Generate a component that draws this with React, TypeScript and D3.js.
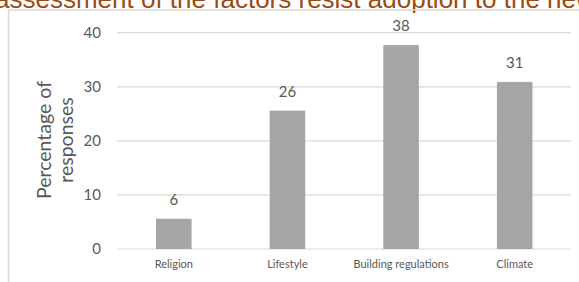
import React from "react";
import * as d3 from "d3";

const categories = ["Religion", "Lifestyle", "Building regulations", "Climate"];
const values = [5.6, 25.6, 37.7, 30.9];
const yTicks = [0, 10, 20, 30, 40];
const titleText = "assessment of the factors resist adoption to the new";
const yTitleLines = ["Percentage of", "responses"];

const W = 579;
const H = 282;
const FONT = "Lato, 'Open Sans', sans-serif";
const GRAY = "#595959";

export default function App() {
  const x = d3
    .scaleBand<string>()
    .domain(categories)
    .range([117, 571.5])
    .paddingInner(0.687)
    .paddingOuter(0.3435);
  const y = d3.scaleLinear().domain([0, 40]).range([249, 32.7]);
  const fmt = d3.format(".0f");

  return (
    <svg
      width={W}
      height={H}
      style={{ position: "absolute", left: 0, top: 0, background: "#fff" }}
    >
      <rect x={0} y={0} width={W} height={H} fill="#fff" />
      <text
        x={-5}
        y={7.5}
        fontFamily="'Liberation Sans', Arial, sans-serif"
        fontSize={26}
        fill="#9c4a10"
      >
        {titleText}
      </text>
      <line x1={8.5} y1={10} x2={W + 2} y2={10} stroke="#d9d9d9" strokeWidth={1.5} />
      <line x1={8.5} y1={10} x2={8.5} y2={H + 2} stroke="#d9d9d9" strokeWidth={1.5} />

      {yTicks.map((t) => (
        <g key={t}>
          <line
            x1={117}
            x2={571}
            y1={y(t)}
            y2={y(t)}
            stroke="#d9d9d9"
            strokeWidth={1.2}
          />
          <text
            x={101}
            y={y(t)}
            dy="0.36em"
            textAnchor="end"
            fontFamily={FONT}
            fontSize={15}
            fill={GRAY}
          >
            {t}
          </text>
        </g>
      ))}

      {categories.map((c, i) => (
        <g key={c}>
          <rect
            x={x(c)}
            y={y(values[i])}
            width={x.bandwidth()}
            height={y(0) - y(values[i])}
            fill="#a5a5a5"
          />
          <text
            x={(x(c) as number) + x.bandwidth() / 2}
            y={y(values[i]) - 14}
            textAnchor="middle"
            fontFamily={FONT}
            fontSize={15}
            fill={GRAY}
          >
            {fmt(values[i])}
          </text>
          <text
            x={(x(c) as number) + x.bandwidth() / 2}
            y={268}
            textAnchor="middle"
            fontFamily={FONT}
            fontSize={11}
            fill={GRAY}
          >
            {c}
          </text>
        </g>
      ))}

      <g transform="translate(51,140) rotate(-90)">
        {yTitleLines.map((l, i) => (
          <text
            key={l}
            x={0}
            y={i * 21.5}
            textAnchor="middle"
            fontFamily={FONT}
            fontSize={19.5}
            fill={GRAY}
          >
            {l}
          </text>
        ))}
      </g>
    </svg>
  );
}
